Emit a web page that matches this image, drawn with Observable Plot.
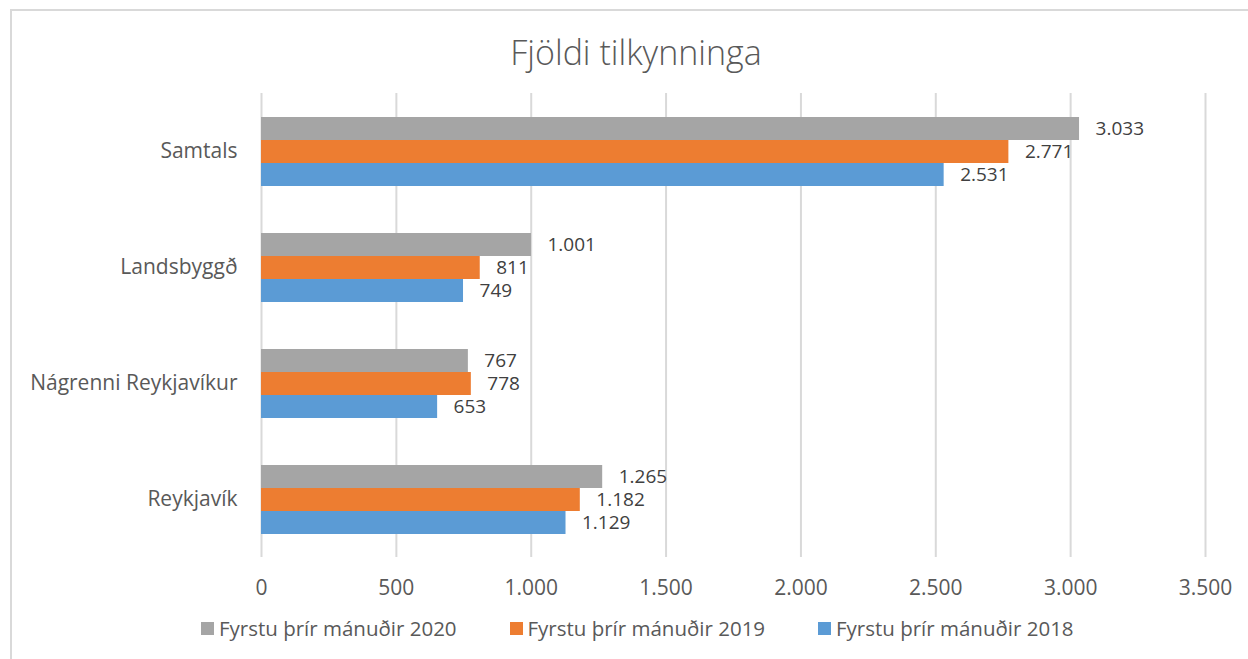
<!DOCTYPE html>
<html>
<head>
<meta charset="utf-8">
<script src="https://cdn.jsdelivr.net/npm/d3@7"></script>
<script src="https://cdn.jsdelivr.net/npm/@observablehq/plot@0.6"></script>
<style>
  html, body { margin: 0; padding: 0; background: #fff; }
  #wrap { position: relative; width: 1248px; height: 659px; overflow: hidden; font-family: "Open Sans", sans-serif; }
  #frame { position: absolute; left: 10px; top: 9px; width: 1300px; height: 700px; border-left: 2px solid #d9d9d9; border-top: 2px solid #d9d9d9; box-sizing: border-box; }
  #title { position: absolute; left: 0; width: 1272px; top: 30px; text-align: center; font-size: 34px; font-weight: 300; color: #595959; line-height: 44px; }
  #chart { position: absolute; left: 0; top: 0; }
  #legend { position: absolute; left: 201px; top: 614px; display: flex; }
  .item { width: 308.5px; display: flex; align-items: center; font-size: 20.5px; color: #595959; height: 28px; white-space: nowrap; }
  .sw { width: 13px; height: 13px; margin-right: 5px; flex: none; }
</style>
</head>
<body>
<div id="wrap">
  <div id="frame"></div>
  <div id="chart"></div>
  <div id="title">Fjöldi tilkynninga</div>
  <div id="legend"></div>
</div>
<script>
const categories = ["Samtals", "Landsbyggð", "Nágrenni Reykjavíkur", "Reykjavík"];
const series = ["Fyrstu þrír mánuðir 2020", "Fyrstu þrír mánuðir 2019", "Fyrstu þrír mánuðir 2018"];
const values2020 = [3033, 1001, 767, 1265];
const values2019 = [2771, 811, 778, 1182];
const values2018 = [2531, 749, 653, 1129];
const xTicks = [0, 500, 1000, 1500, 2000, 2500, 3000, 3500];
const colors = ["#A5A5A5", "#ED7D31", "#5B9BD5"];

const seriesValues = [values2020, values2019, values2018];
const data = [];
categories.forEach((c, i) => {
  series.forEach((s, j) => {
    data.push({category: c, series: s, value: seriesValues[j][i]});
  });
});

const loc = d3.formatLocale({decimal: ",", thousands: ".", grouping: [3], currency: ["", ""]});
const fmt = loc.format(",d");

const chart = Plot.plot({
  width: 1248,
  height: 659,
  marginLeft: 261,
  marginRight: 43,
  marginTop: 93,
  marginBottom: 102,
  style: {fontFamily: "Open Sans, sans-serif", fontSize: "21px", color: "#595959", background: "transparent"},
  x: {domain: [0, 3500], ticks: xTicks},
  fy: {domain: categories, padding: 0},
  y: {domain: series, paddingInner: 0, paddingOuter: 0.95, axis: null},
  color: {domain: series, range: colors},
  marks: [
    Plot.gridX(xTicks, {stroke: "#d9d9d9", strokeOpacity: 1, strokeWidth: 2}),
    Plot.barX(data, {x: "value", y: "series", fy: "category", fill: "series"}),
    Plot.text(data, {x: "value", y: "series", fy: "category", text: d => fmt(d.value), textAnchor: "start", dx: 16, fill: "#404040", fontSize: 19}),
    Plot.axisX({ticks: xTicks, tickFormat: fmt, tickSize: 0, tickPadding: 23, label: null, fill: "#595959"}),
    Plot.axisFy({anchor: "left", tickSize: 0, tickPadding: 24, label: null, fill: "#595959"})
  ]
});
document.getElementById("chart").appendChild(chart);

const legend = document.getElementById("legend");
series.forEach((s, j) => {
  const item = document.createElement("div");
  item.className = "item";
  const sw = document.createElement("span");
  sw.className = "sw";
  sw.style.background = colors[j];
  const t = document.createElement("span");
  t.textContent = s;
  item.appendChild(sw);
  item.appendChild(t);
  legend.appendChild(item);
});
</script>
</body>
</html>
